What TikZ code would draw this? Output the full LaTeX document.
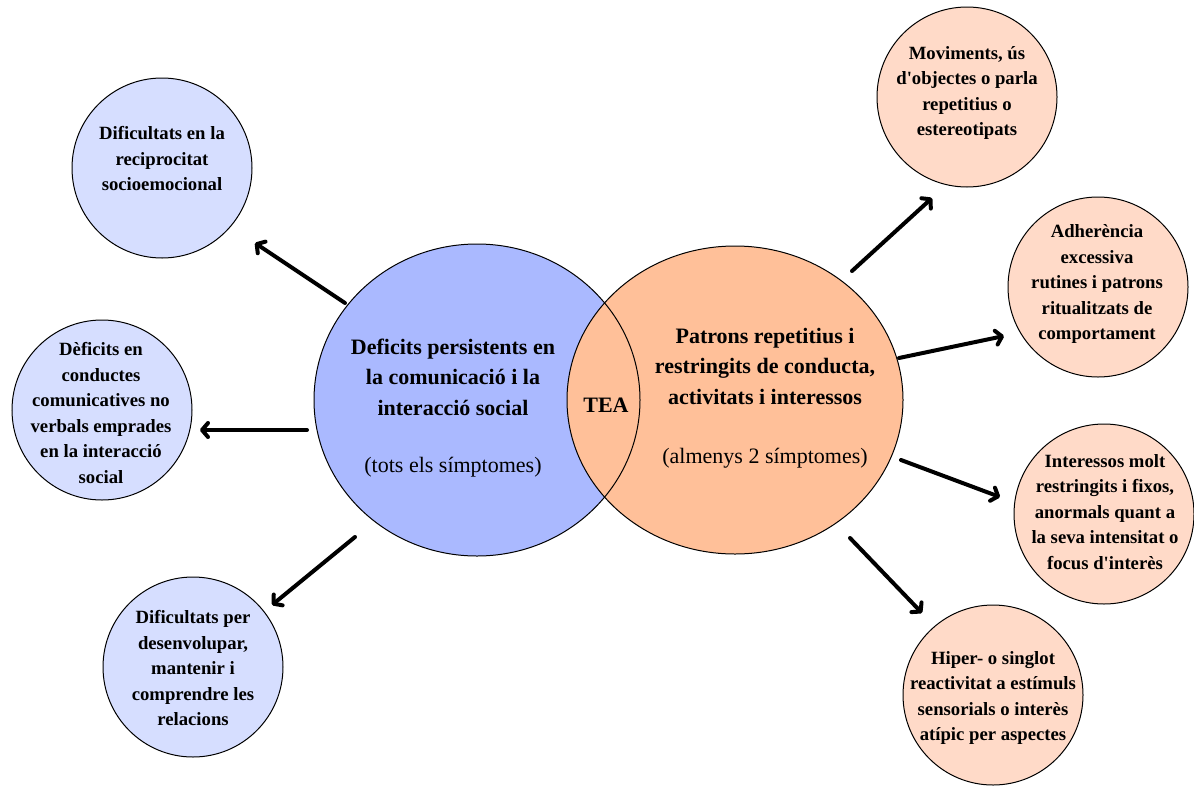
\documentclass[tikz,border=0pt]{standalone}
\usepackage{fontspec}
\setmainfont{Liberation Serif}
\usetikzlibrary{arrows.meta}
\definecolor{bigblue}{RGB}{170,185,255}
\definecolor{bigorange}{RGB}{255,192,153}
\definecolor{lblue}{RGB}{214,222,255}
\definecolor{lorange}{RGB}{255,218,200}

\begin{document}
\begin{tikzpicture}[x=1pt,y=-1pt,
    sm/.style={circle,draw=black,line width=1pt,
               minimum size=180pt,inner sep=0pt},
    smb/.style={sm,fill=lblue},
    smo/.style={sm,fill=lorange},
    st/.style={align=center,inner sep=0pt,
               font=\fontsize{18.7}{25.5}\selectfont\bfseries},
    bt/.style={align=center,inner sep=0pt,
               font=\fontsize{22}{30.5}\selectfont\bfseries},
    nt/.style={inner sep=0pt,font=\fontsize{22}{30}\selectfont},
    arr/.style={-{Straight Barb[length=6pt,width=14pt,
                line cap=round,line join=round]},
                line width=4pt,line cap=round}
  ]
    \useasboundingbox (0,0) rectangle (1194,785);

    %% Venn ───────────────────────────────────
    \fill[bigblue]   (477,400) ellipse [x radius=163, y radius=156];
    \fill[bigorange] (735,400) ellipse [x radius=168, y radius=154];
    \draw[line width=1pt] (477,400) ellipse [x radius=163, y radius=156];
    \draw[line width=1pt] (735,400) ellipse [x radius=168, y radius=154];

    \node[bt] (def) at (453,377)
          {Deficits persistents en\\la comunicació i la\\interacció social};
    \node[nt,anchor=base] (defn) at (453,472) {(tots els símptomes)};
    \node[bt,anchor=base] (tea) at (606,412) {TEA};
    \node[bt] (pat) at (765,366)
          {Patrons repetitius i\\restringits de conducta,\\activitats i interessos};
    \node[nt,anchor=base] (patn) at (765,463) {(almenys 2 símptomes)};

    %% Left circles ───────────────────────────
    \node[smb] (recip) at (162,168) {};
    \node[st] (recip-t) at (162,159)
          {Dificultats en la\\reciprocitat\\socioemocional};
    \node[smb] (nverb) at (102,410) {};
    \node[st] (nverb-t) at (101,413)
          {Dèficits en\\conductes\\comunicatives no\\verbals emprades\\en la interacció\\social};
    \node[smb] (rel) at (193,667) {};
    \node[st] (rel-t) at (193,668)
          {Dificultats per\\desenvolupar,\\mantenir i\\comprendre les\\relacions};

    %% Right circles ──────────────────────────
    \node[smo] (mov) at (967,97) {};
    \node[st] (mov-t) at (967,93)
          {Moviments, ús\\d\textquotesingle objectes o parla\\repetitius o\\estereotipats};
    \node[smo] (rut) at (1098,287) {};
    \node[st] (rut-t) at (1097,284)
          {Adherència\\excessiva\\rutines i patrons\\ritualitzats de\\comportament};
    \node[smo] (int) at (1104,514) {};
    \node[st] (int-t) at (1105,512)
          {Interessos molt\\restringits i fixos,\\anormals quant a\\la seva intensitat o\\focus d\textquotesingle interès};
    \node[smo] (sens) at (993,695) {};
    \node[st] (sens-t) at (993,698)
          {Hiper- o singlot\\reactivitat a estímuls\\sensorials o interès\\atípic per aspectes};

    %% Arrows ─────────────────────────────────
    \coordinate (a1) at (345,303);  \coordinate (b1) at (255,243);
    \coordinate (a2) at (307,430);  \coordinate (b2) at (200,430);
    \coordinate (a3) at (355,537);  \coordinate (b3) at (272,605);
    \coordinate (a4) at (852,271);  \coordinate (b4) at (932,198);
    \coordinate (a5) at (899,358);  \coordinate (b5) at (1004,336);
    \coordinate (a6) at (901,460);  \coordinate (b6) at (1000,497);
    \coordinate (a7) at (850,538);  \coordinate (b7) at (922,613);
    \foreach \i in {1,...,7}
      \draw[arr] (a\i) -- (b\i);
\end{tikzpicture}
\end{document}
